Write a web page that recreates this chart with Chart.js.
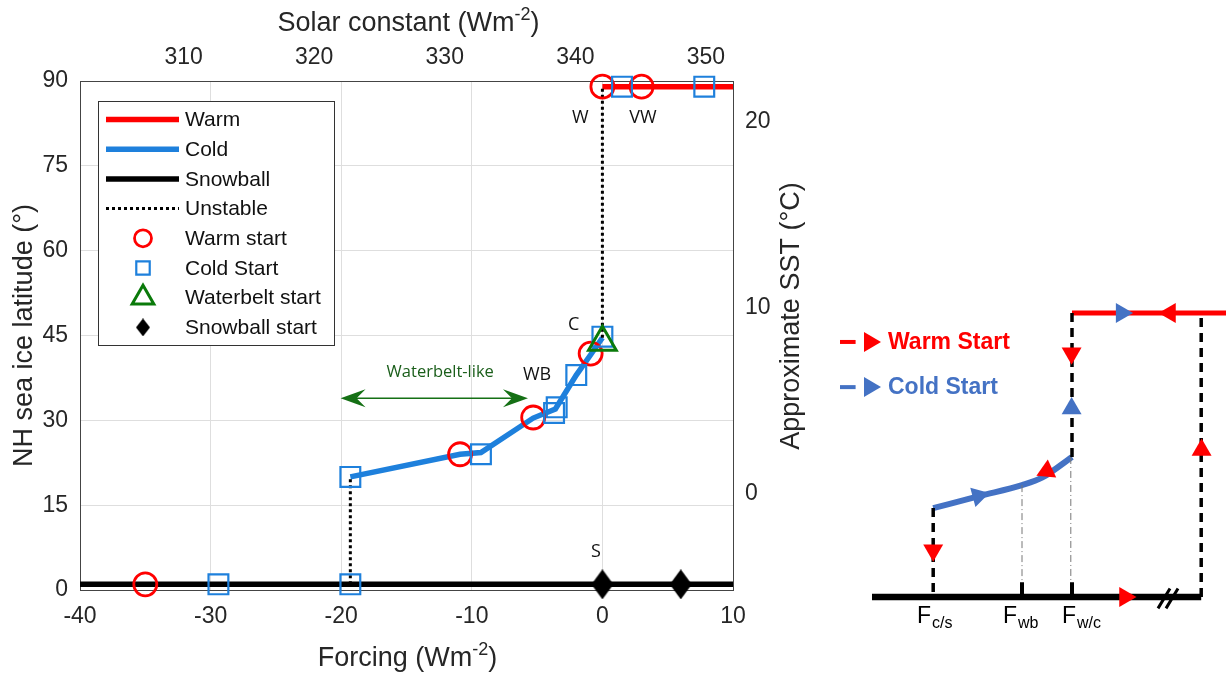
<!DOCTYPE html>
<html>
<head>
<meta charset="utf-8">
<script src="https://cdn.jsdelivr.net/npm/chart.js"></script>
<style>
  html, body { margin: 0; padding: 0; background: #fff; }
  #wrap { position: relative; width: 1230px; height: 674px; overflow: hidden; }
  #mainChart { position: absolute; left: 0; top: 0; }
  #sketchChart { position: absolute; left: 830px; top: 0; }
</style>
</head>
<body>
<div id="wrap">
  <canvas id="mainChart" width="830" height="674"></canvas>
  <canvas id="sketchChart" width="400" height="674"></canvas>
</div>
<script>
// ---- main chart data (forcing in Wm-2, latitude in degrees) ----
const forcingTicks = [-40, -30, -20, -10, 0, 10];
const latitudeTicks = [0, 15, 30, 45, 60, 75, 90];
const solarTicks = [310, 320, 330, 340, 350];
const sstTicks = [0, 10, 20];

const warmBranch = [[0, 89], [10, 89]];
const coldBranch = [[-19.3, 20], [-10.9, 24], [-9.3, 24.3], [-5.3, 30.4], [-3.6, 32], [-2.0, 38], [-0.9, 41.6], [0, 44.6]];
const snowballBranch = [[-40, 1], [10, 1]];
const unstableBranch = [[-19.3, 1], [-19.3, 20], null, [0, 44.6], [0, 89]];

const warmStart = [[-35, 1], [-10.9, 24], [-5.3, 30.5], [-0.9, 41.8], [0, 89], [3.0, 89]];
const coldStart = [[-29.4, 1], [-19.3, 1], [-19.3, 20], [-9.3, 24], [-3.7, 31.3], [-3.5, 32.3], [-2.0, 38], [0, 44.8], [1.5, 89], [7.8, 89]];
const waterbeltStart = [[0, 43.8]];
const snowballStart = [[0, 1], [6, 1]];

const stateLabels = ['W', 'VW', 'C', 'WB', 'S'];
const stateLabelAt = [[-1.7, 83.5], [3.1, 83.5], [-2.2, 46.9], [-5.0, 38.0], [-0.5, 6.7]];
const waterbeltRange = [-20.05, -5.7];
const waterbeltLat = 33.9;

// ---- schematic data (arbitrary forcing / state units) ----
const sketchFloor = [[1.05, 0], [9.28, 0]];
const sketchWarm = [[6.05, 10], [9.9, 10]];
const sketchCold = [[2.58, 3.13], [3.75, 3.56], [4.8, 3.94], [5.3, 4.2], [6.05, 4.93]];
const sketchJumps = [[2.58, 3.13], [2.58, 0], null, [6.05, 4.93], [6.05, 10], null, [9.28, 0], [9.28, 10]];
const sketchGuides = [[4.8, 3.94], [4.8, 0.5], null, [6.02, 4.93], [6.02, 0.5]];
const sketchMarks = [[4.8, 0], [4.8, 0.52], null, [6.05, 0], [6.05, 0.52]];
const sketchBreak = [[8.2, -0.4], [8.5, 0.3], null, [8.4, -0.4], [8.7, 0.3]];
const sketchRedArrows = [[7.375, 0], [9.29, 5.18], [8.5, 10], [6.04, 8.58], [2.58, 1.65], [5.42, 4.44]];
const sketchRedDirs = [90, 0, 270, 180, 180, 245];
const sketchBlueArrows = [[7.29, 10], [6.04, 6.64], [3.71, 3.56]];
const sketchBlueDirs = [90, 0, 75];
const sketchTickNames = ['c/s', 'wb', 'w/c'];
const sketchTickNameX = [2.175, 4.325, 5.8];

const FONT = '"Liberation Sans", Arial, Helvetica, sans-serif';
const RED = '#ff0000';
const BLUE = '#1e80dc';
const GREEN = '#0a7a0a';
const SK_BLUE = '#4472c4';

Chart.defaults.font.family = FONT;
Chart.defaults.color = '#262626';

const pts = arr => arr.map(p => p ? { x: p[0], y: p[1] } : { x: null, y: null });

function makeDiamond(w, h) {
  const c = document.createElement('canvas');
  c.width = w; c.height = h;
  const g = c.getContext('2d');
  g.fillStyle = '#000';
  g.beginPath();
  g.moveTo(w / 2, 0); g.lineTo(w, h / 2); g.lineTo(w / 2, h); g.lineTo(0, h / 2);
  g.closePath(); g.fill();
  return c;
}
const diamondBig = makeDiamond(22, 30);
const diamondSmall = makeDiamond(14, 18);

function marker(ctx, style, x, y, r, stroke, lw) {
  ctx.save();
  if (typeof style === 'object') {
    ctx.drawImage(style, x - style.width / 2, y - style.height / 2);
    ctx.restore();
    return;
  }
  ctx.lineWidth = lw;
  ctx.strokeStyle = stroke;
  ctx.beginPath();
  if (style === 'circle') {
    ctx.arc(x, y, r, 0, Math.PI * 2);
  } else if (style === 'rect') {
    const s = r * Math.SQRT1_2;
    ctx.rect(x - s, y - s, 2 * s, 2 * s);
  } else if (style === 'triangle') {
    for (let k = 0; k < 3; k++) {
      const a = k * 2 * Math.PI / 3;
      ctx.lineTo(x + Math.sin(a) * r, y - Math.cos(a) * r);
    }
    ctx.closePath();
  }
  ctx.stroke();
  ctx.restore();
}

function supText(ctx, parts, cx, baseline, size) {
  const big = size + 'px ' + FONT, small = Math.round(size * 0.68) + 'px ' + FONT;
  ctx.font = big;
  const w0 = ctx.measureText(parts[0]).width, w2 = ctx.measureText(parts[2]).width;
  ctx.font = small;
  const w1 = ctx.measureText(parts[1]).width;
  let x = cx - (w0 + w1 + w2) / 2;
  ctx.textAlign = 'left';
  ctx.textBaseline = 'alphabetic';
  ctx.font = big; ctx.fillText(parts[0], x, baseline); x += w0;
  ctx.font = small; ctx.fillText(parts[1], x, baseline - size * 0.42); x += w1;
  ctx.font = big; ctx.fillText(parts[2], x, baseline);
}

function subText(ctx, main, sub, x, baseline, size) {
  ctx.textAlign = 'left';
  ctx.textBaseline = 'alphabetic';
  ctx.font = size + 'px ' + FONT;
  ctx.fillText(main, x, baseline);
  const w = ctx.measureText(main).width;
  ctx.font = Math.round(size * 0.68) + 'px ' + FONT;
  ctx.fillText(sub, x + w + 1, baseline + size * 0.22);
}

const legendOrder = ['Warm', 'Cold', 'Snowball', 'Unstable', 'Warm start', 'Cold Start', 'Waterbelt start', 'Snowball start'];

const mainDecor = {
  id: 'mainDecor',
  afterDraw(chart) {
    const ctx = chart.ctx;
    const xs = chart.scales.x, ys = chart.scales.y;
    const area = chart.chartArea;
    const midX = (area.left + area.right) / 2;
    ctx.save();
    ctx.fillStyle = '#262626';

    // axis titles
    supText(ctx, ['Forcing (Wm', '-2', ')'], midX + 1, 666, 27);
    supText(ctx, ['Solar constant (Wm', '-2', ')'], midX + 2, 31, 27);
    ctx.font = '27px ' + FONT;
    ctx.textAlign = 'center';
    ctx.textBaseline = 'middle';
    ctx.save();
    ctx.translate(25, (area.top + area.bottom) / 2);
    ctx.rotate(-Math.PI / 2);
    ctx.fillText('NH sea ice latitude (\u00b0)', 0, 0);
    ctx.restore();
    ctx.save();
    ctx.translate(792, 316);
    ctx.rotate(-Math.PI / 2);
    ctx.fillText('Approximate SST (\u00b0C)', 0, 0);
    ctx.restore();

    // state labels
    ctx.font = '18px "Open Sans", ' + FONT;
    ctx.fillStyle = '#111';
    stateLabels.forEach((t, i) => {
      ctx.fillText(t, xs.getPixelForValue(stateLabelAt[i][0]), ys.getPixelForValue(stateLabelAt[i][1]));
    });

    // waterbelt-like double arrow
    const ay = ys.getPixelForValue(waterbeltLat);
    const ax0 = xs.getPixelForValue(waterbeltRange[0]);
    const ax1 = xs.getPixelForValue(waterbeltRange[1]);
    ctx.strokeStyle = '#157015';
    ctx.fillStyle = '#157015';
    ctx.lineWidth = 1.5;
    ctx.beginPath(); ctx.moveTo(ax0 + 10, ay); ctx.lineTo(ax1 - 10, ay); ctx.stroke();
    [[ax0, 1], [ax1, -1]].forEach(([tx, d]) => {
      ctx.beginPath();
      ctx.moveTo(tx, ay);
      ctx.lineTo(tx + d * 25, ay - 9);
      ctx.lineTo(tx + d * 16, ay);
      ctx.lineTo(tx + d * 25, ay + 9);
      ctx.closePath();
      ctx.fill();
    });
    ctx.font = '16.5px "Open Sans", ' + FONT;
    ctx.fillStyle = '#1a5e1a';
    ctx.fillText('Waterbelt-like', (ax0 + ax1) / 2 + 6, ay - 26);

    // legend box
    const bx = 98, by = 101, bw = 236, bh = 244;
    ctx.fillStyle = '#fff';
    ctx.fillRect(bx, by, bw, bh);
    ctx.strokeStyle = '#333';
    ctx.lineWidth = 1;
    ctx.strokeRect(bx + 0.5, by + 0.5, bw, bh);
    ctx.font = '21px ' + FONT;
    ctx.textAlign = 'left';
    legendOrder.forEach((name, i) => {
      const ds = chart.data.datasets.find(d => d.label === name);
      const y = 119.5 + i * 29.7;
      if (ds.showLine) {
        ctx.save();
        ctx.strokeStyle = ds.borderColor;
        ctx.lineWidth = ds.borderWidth;
        ctx.setLineDash(ds.borderDash || []);
        ctx.beginPath(); ctx.moveTo(106, y); ctx.lineTo(179, y); ctx.stroke();
        ctx.restore();
      } else {
        const style = ds.legendStyle || ds.pointStyle;
        marker(ctx, style, 143, y, ds.legendRadius, ds.pointBorderColor, ds.pointBorderWidth);
      }
      ctx.fillStyle = '#111';
      ctx.fillText(name, 185, y + 1);
    });
    ctx.restore();
  }
};

const lineSet = (label, data, color, width, dash) => ({
  label, data: pts(data), showLine: true, borderColor: color, borderWidth: width,
  borderDash: dash || [], pointRadius: 0, fill: false, tension: 0
});
const markSet = (label, data, style, radius, color, width, legendRadius) => ({
  label, data: pts(data), showLine: false, pointStyle: style, pointRadius: radius,
  pointBorderColor: color, pointBorderWidth: width, pointBackgroundColor: 'rgba(0,0,0,0)',
  legendRadius, clip: false
});

const fixedTicks = list => scale => { scale.ticks = list.map(v => ({ value: v })); };
const tickFont = { size: 23, family: FONT };

const snowStartSet = markSet('Snowball start', snowballStart, diamondBig, 15, '#000', 0, 0);
snowStartSet.legendStyle = diamondSmall;

new Chart(document.getElementById('mainChart'), {
  type: 'scatter',
  data: {
    datasets: [
      markSet('Waterbelt start', waterbeltStart, 'triangle', 16, GREEN, 3, 12.5),
      markSet('Cold Start', coldStart, 'rect', 14, BLUE, 2.2, 9.5),
      markSet('Warm start', warmStart, 'circle', 11.5, RED, 2.8, 8.5),
      snowStartSet,
      lineSet('Unstable', unstableBranch, '#000', 3, [3, 3]),
      lineSet('Cold', coldBranch, BLUE, 5.5),
      lineSet('Warm', warmBranch, RED, 5.5),
      lineSet('Snowball', snowballBranch, '#000', 5.5)
    ]
  },
  options: {
    responsive: false,
    animation: false,
    events: [],
    layout: { padding: 0, autoPadding: false },
    plugins: { legend: { display: false }, tooltip: { enabled: false } },
    scales: {
      x: {
        type: 'linear', position: 'bottom', min: -40, max: 10,
        afterBuildTicks: fixedTicks(forcingTicks),
        afterFit: s => { s.height = 84; },
        ticks: { font: tickFont, padding: 13, color: '#262626' },
        grid: { color: '#dedede', drawTicks: false },
        border: { color: '#444', width: 1 }
      },
      x2: {
        type: 'linear', position: 'top', min: 302.07, max: 352.07,
        afterBuildTicks: fixedTicks(solarTicks),
        afterFit: s => { s.height = 81; },
        ticks: { font: tickFont, padding: 10, color: '#262626' },
        grid: { display: false, drawTicks: false },
        border: { color: '#444', width: 1 }
      },
      y: {
        type: 'linear', position: 'left', min: 0, max: 90,
        afterBuildTicks: fixedTicks(latitudeTicks),
        afterFit: s => { s.width = 80; },
        ticks: { font: tickFont, padding: 12, color: '#262626' },
        grid: { color: '#dedede', drawTicks: false },
        border: { color: '#444', width: 1 }
      },
      y2: {
        type: 'linear', position: 'right', min: -5.2, max: 22.2,
        afterBuildTicks: fixedTicks(sstTicks),
        afterFit: s => { s.width = 97; },
        ticks: { font: tickFont, padding: 12, color: '#262626' },
        grid: { display: false, drawTicks: false },
        border: { color: '#444', width: 1 }
      }
    }
  },
  plugins: [mainDecor]
});

// ---- schematic ----
const sketchDecor = {
  id: 'sketchDecor',
  afterDraw(chart) {
    const ctx = chart.ctx;
    const xs = chart.scales.x, ys = chart.scales.y;
    ctx.save();
    ctx.fillStyle = '#000';
    const base = ys.getPixelForValue(-0.915);
    sketchTickNames.forEach((n, i) => {
      subText(ctx, 'F', n, xs.getPixelForValue(sketchTickNameX[i]), base, 23);
    });
    // legend
    const rows = [['Warm Start', RED, 8.98], ['Cold Start', SK_BLUE, 7.39]];
    rows.forEach(([name, col, v]) => {
      const y = ys.getPixelForValue(v);
      ctx.strokeStyle = col;
      ctx.fillStyle = col;
      ctx.lineWidth = 4;
      ctx.beginPath(); ctx.moveTo(xs.getPixelForValue(0.25), y); ctx.lineTo(xs.getPixelForValue(0.64), y); ctx.stroke();
      const tx = xs.getPixelForValue(1.0);
      ctx.beginPath();
      ctx.moveTo(tx + 11, y); ctx.lineTo(tx - 6, y - 10); ctx.lineTo(tx - 6, y + 10); ctx.closePath(); ctx.fill();
      ctx.font = 'bold 23px ' + FONT;
      ctx.textAlign = 'left';
      ctx.textBaseline = 'middle';
      ctx.fillText(name, xs.getPixelForValue(1.45), y + 1);
    });
    ctx.restore();
  }
};

const arrowSet = (data, dirs, color) => ({
  data: pts(data), showLine: false, pointStyle: 'triangle', pointRadius: 11.5,
  rotation: dirs, pointRotation: dirs, pointBackgroundColor: color, pointBorderColor: color,
  pointBorderWidth: 0, clip: false
});

new Chart(document.getElementById('sketchChart'), {
  type: 'scatter',
  data: {
    datasets: [
      arrowSet(sketchRedArrows, sketchRedDirs, RED),
      arrowSet(sketchBlueArrows, sketchBlueDirs, SK_BLUE),
      lineSet('break', sketchBreak, '#000', 3),
      lineSet('marks', sketchMarks, '#000', 4),
      lineSet('guides', sketchGuides, '#777', 1, [7, 3, 1, 3]),
      lineSet('jumps', sketchJumps, '#000', 3.5, [9, 6]),
      Object.assign(lineSet('cold', sketchCold, SK_BLUE, 6), { tension: 0.35, cubicInterpolationMode: 'monotone' }),
      lineSet('warm', sketchWarm, RED, 5),
      lineSet('floor', sketchFloor, '#000', 6.5)
    ]
  },
  options: {
    responsive: false,
    animation: false,
    events: [],
    layout: { padding: 0, autoPadding: false },
    plugins: { legend: { display: false }, tooltip: { enabled: false } },
    scales: {
      x: { type: 'linear', min: 0, max: 10, display: false },
      y: { type: 'linear', min: -2.711, max: 21.02, display: false }
    }
  },
  plugins: [sketchDecor]
});
</script>
</body>
</html>
